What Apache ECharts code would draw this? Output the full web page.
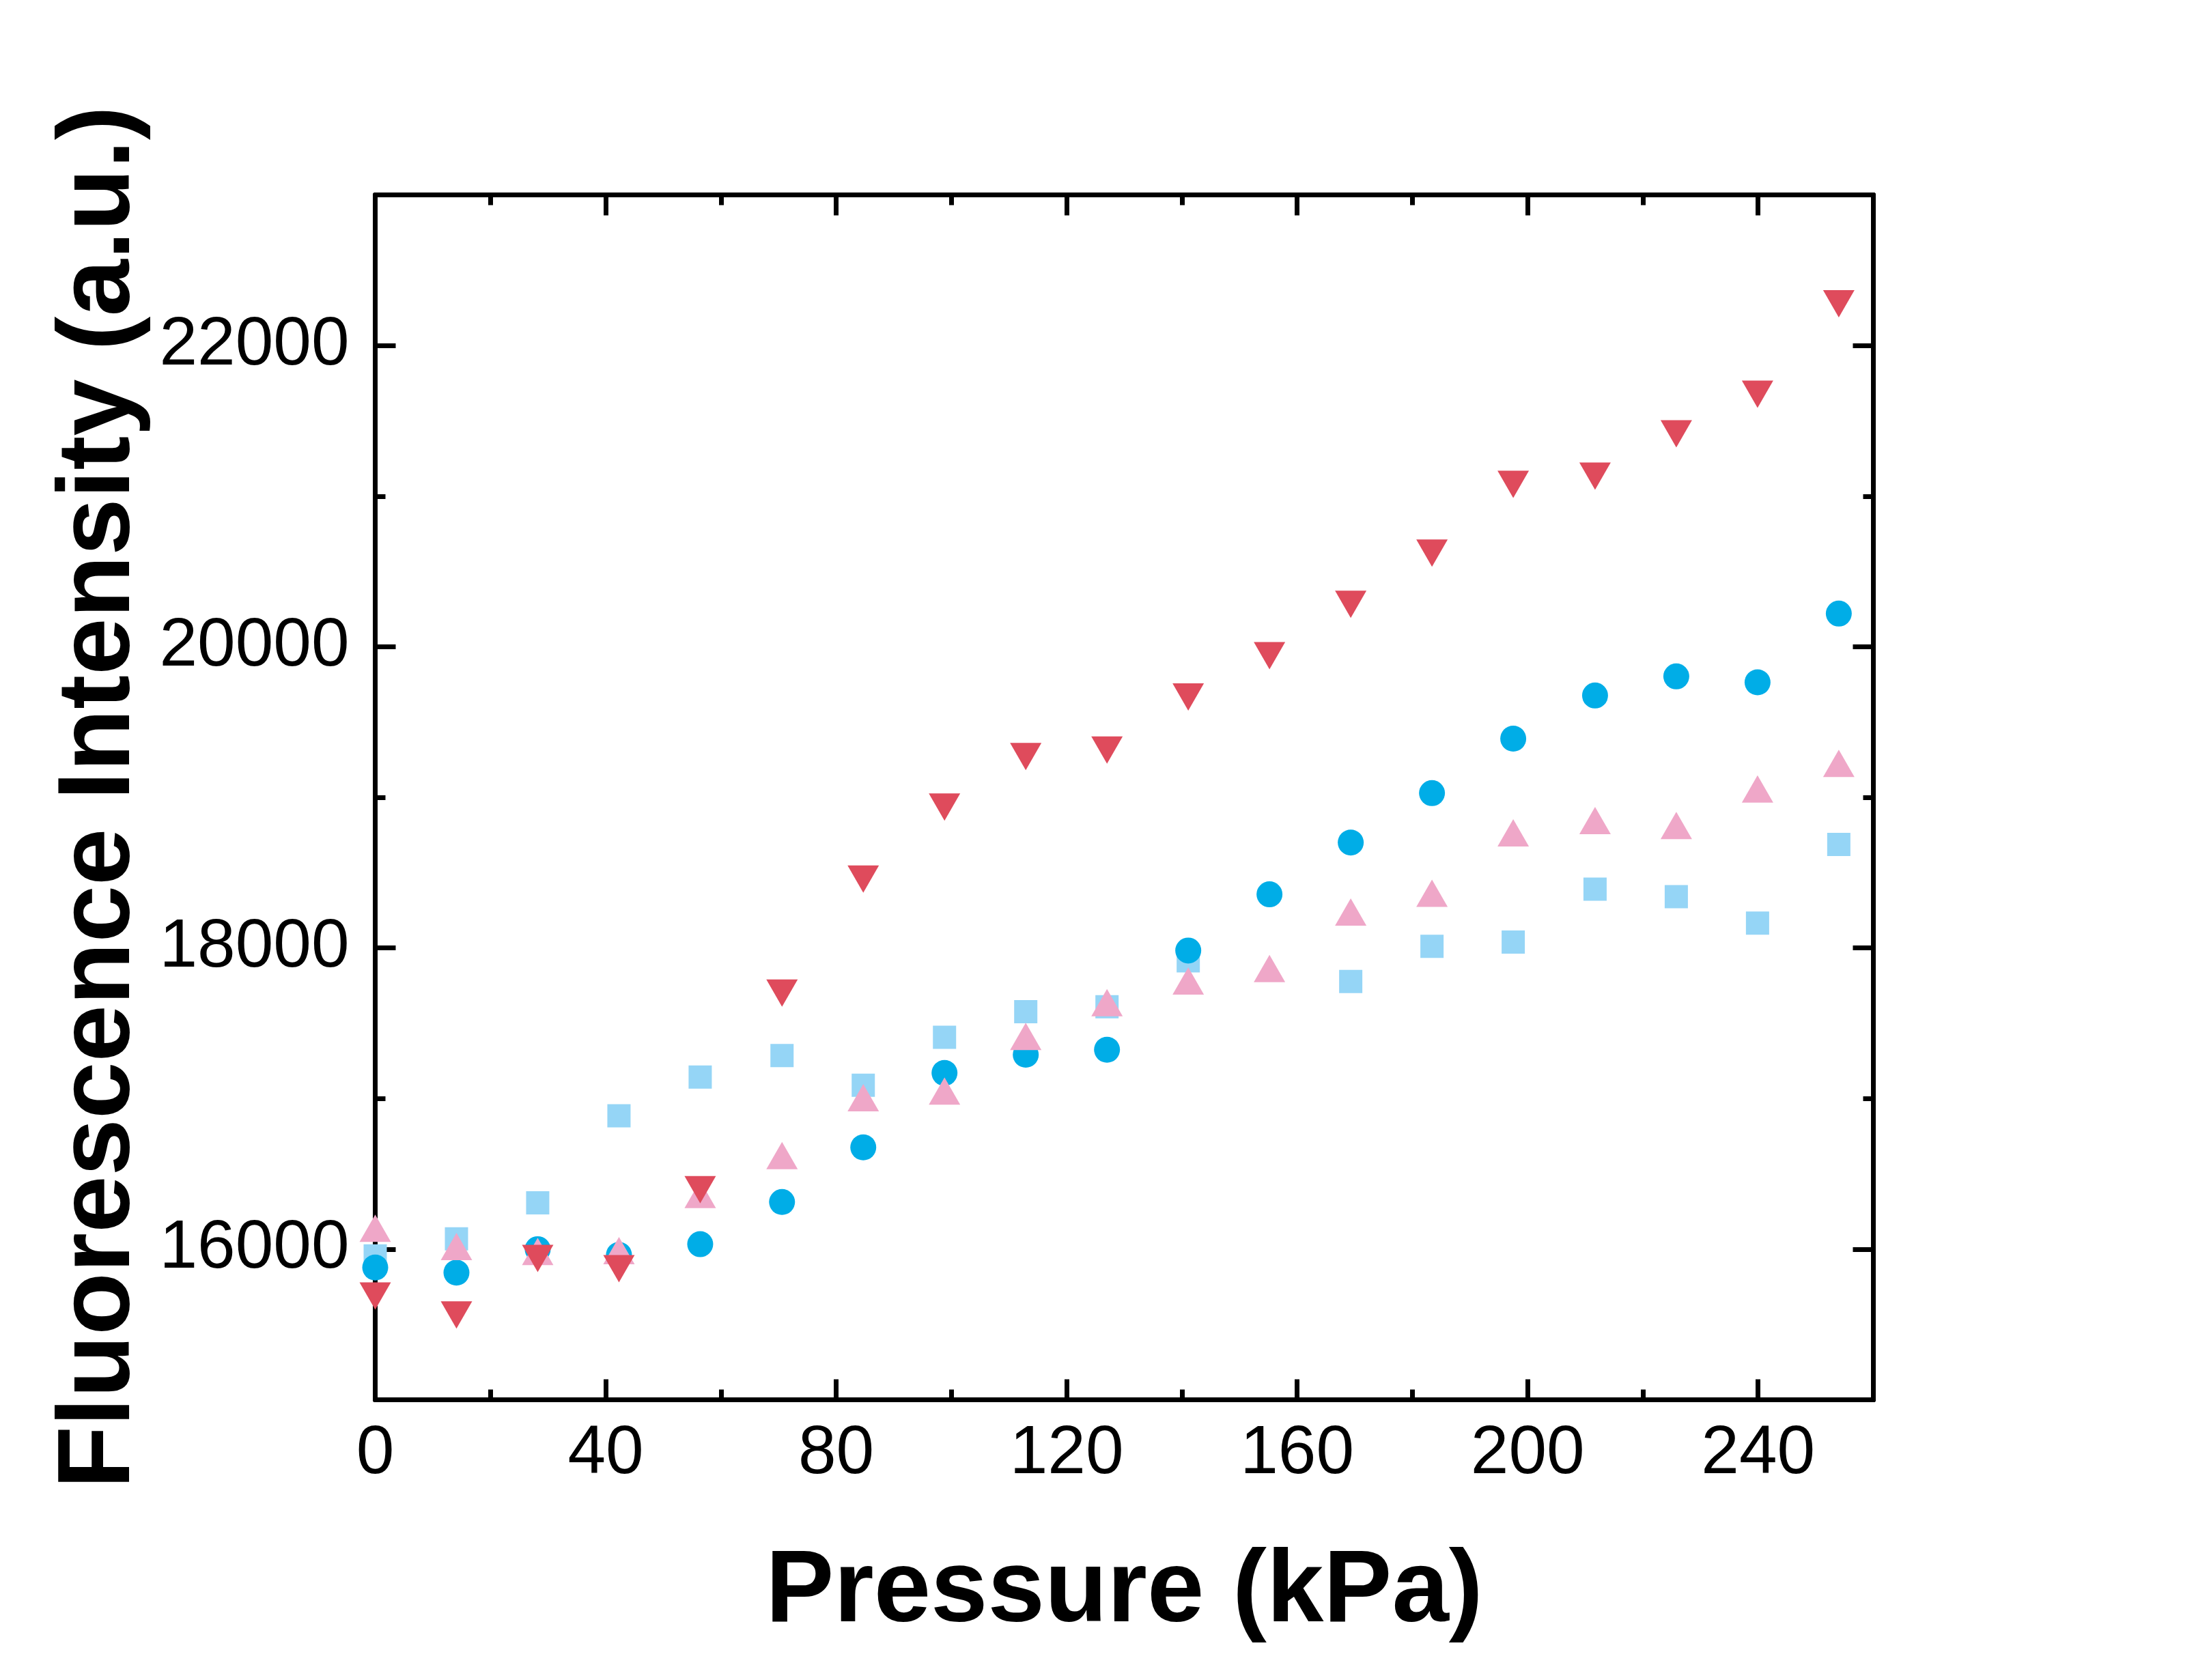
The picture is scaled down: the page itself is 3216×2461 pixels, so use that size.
<!DOCTYPE html>
<html>
<head>
<meta charset="utf-8">
<script src="https://cdn.jsdelivr.net/npm/echarts@6/dist/echarts.min.js"></script>
<style>
html,body{margin:0;padding:0;background:#fff;}
#chart{width:3216px;height:2461px;}
</style>
</head>
<body>
<div id="chart"></div>
<script>
// Data
const pressure = [0, 14.1, 28.2, 42.3, 56.4, 70.6, 84.7, 98.8, 112.9, 127.0, 141.1, 155.2, 169.3, 183.4, 197.5, 211.7, 225.8, 239.9, 254.0];
const squareVals = [15955, 16068, 16308, 16885, 17143, 17286, 17088, 17407, 17577, 17610, 17914, null, 17777, 18011, 18039, 18390, 18341, 18165, 18687];
const circleVals = [15878, 15844, 16000, 15962, 16033, 16313, 16676, 17170, 17291, 17324, 17983, 18356, 18700, 19028, 19390, 19676, 19803, 19764, 20220];
const upTriVals = [16139, 16017, 15985, 15990, 16363, 16621, 17006, 17050, 17412, 17637, 17781, 17864, 18238, 18363, 18764, 18846, 18813, 19055, 19226];
const downTriVals = [15689, 15563, 15938, 15870, 16395, 17700, 18457, 18935, 19271, 19314, 19666, 19941, 20282, 20622, 21078, 21133, 21414, 21677, 22277];
const xTickLabels = [0, 40, 80, 120, 160, 200, 240];
const yMajorTicks = [16000, 18000, 20000, 22000];
const yMinorTicks = [17000, 19000, 21000];
const xTitle = 'Pressure (kPa)';
const yTitle = 'Fluorescence Intensity (a.u.)';

function pairs(vals) {
  const out = [];
  for (let i = 0; i < pressure.length; i++) {
    if (vals[i] !== null) out.push([pressure[i], vals[i]]);
  }
  return out;
}

const FONT = '"Liberation Sans", Arial, sans-serif';
const lineW = 7;
const axisLineStyle = { color: '#000', width: lineW };
const plain = v => String(v);

function xAxisDef(pos, withLabels) {
  return {
    type: 'value', position: pos, min: 0, max: 260, interval: 40,
    name: withLabels ? xTitle : '',
    nameLocation: 'middle', nameGap: 208,
    nameTextStyle: { fontFamily: FONT, fontWeight: 'bold', fontSize: 150, color: '#000' },
    axisLine: { show: true, onZero: false, lineStyle: axisLineStyle },
    axisTick: { show: true, inside: true, length: 30, lineStyle: { color: '#000', width: lineW } },
    minorTick: { show: true, splitNumber: 2, length: 15, lineStyle: { color: '#000', width: lineW } },
    axisLabel: { show: withLabels, customValues: xTickLabels, formatter: plain,
      margin: 30, fontFamily: FONT, fontSize: 100, color: '#000' },
    splitLine: { show: false }, minorSplitLine: { show: false }
  };
}
function yAxisDef(pos, ticks, len, withLabels, withName) {
  return {
    type: 'value', position: pos, min: 15000, max: 23000,
    name: withName ? yTitle : '',
    nameLocation: 'middle', nameGap: 322,
    nameTextStyle: { fontFamily: FONT, fontWeight: 'bold', fontSize: 150, color: '#000' },
    axisLine: { show: true, onZero: false, lineStyle: axisLineStyle },
    axisTick: { show: true, inside: true, length: len, customValues: ticks, lineStyle: { color: '#000', width: lineW } },
    axisLabel: { show: withLabels, customValues: ticks, formatter: plain, margin: 38, fontFamily: FONT, fontSize: 100, color: '#000' },
    splitLine: { show: false }
  };
}

const chart = echarts.init(document.getElementById('chart'), null, { renderer: 'canvas' });
chart.setOption({
  backgroundColor: '#fff',
  animation: false,
  grid: { left: 549.5, top: 285.5, width: 2194, height: 1765, containLabel: false },
  xAxis: [xAxisDef('bottom', true), xAxisDef('top', false)],
  yAxis: [
    yAxisDef('left', yMajorTicks, 30, true, true),
    yAxisDef('left', yMinorTicks, 15, false, false),
    yAxisDef('right', yMajorTicks, 30, false, false),
    yAxisDef('right', yMinorTicks, 15, false, false)
  ],
  series: [
    { type: 'scatter', data: pairs(squareVals), symbol: 'rect', symbolSize: 34, clip: false,
      itemStyle: { color: '#95D5F6', opacity: 1 }, z: 3 },
    { type: 'scatter', data: pairs(circleVals), symbol: 'circle', symbolSize: 38, clip: false,
      itemStyle: { color: '#00ADE7', opacity: 1 }, z: 4 },
    { type: 'scatter', data: pairs(upTriVals), symbol: 'triangle', symbolSize: [46, 40], clip: false,
      itemStyle: { color: '#EFA7C8', opacity: 1 }, z: 5 },
    { type: 'scatter', data: pairs(downTriVals), symbol: 'triangle', symbolRotate: 180, symbolSize: [46, 40], clip: false,
      itemStyle: { color: '#DF4B5C', opacity: 1 }, z: 6 }
  ]
});
</script>
</body>
</html>
